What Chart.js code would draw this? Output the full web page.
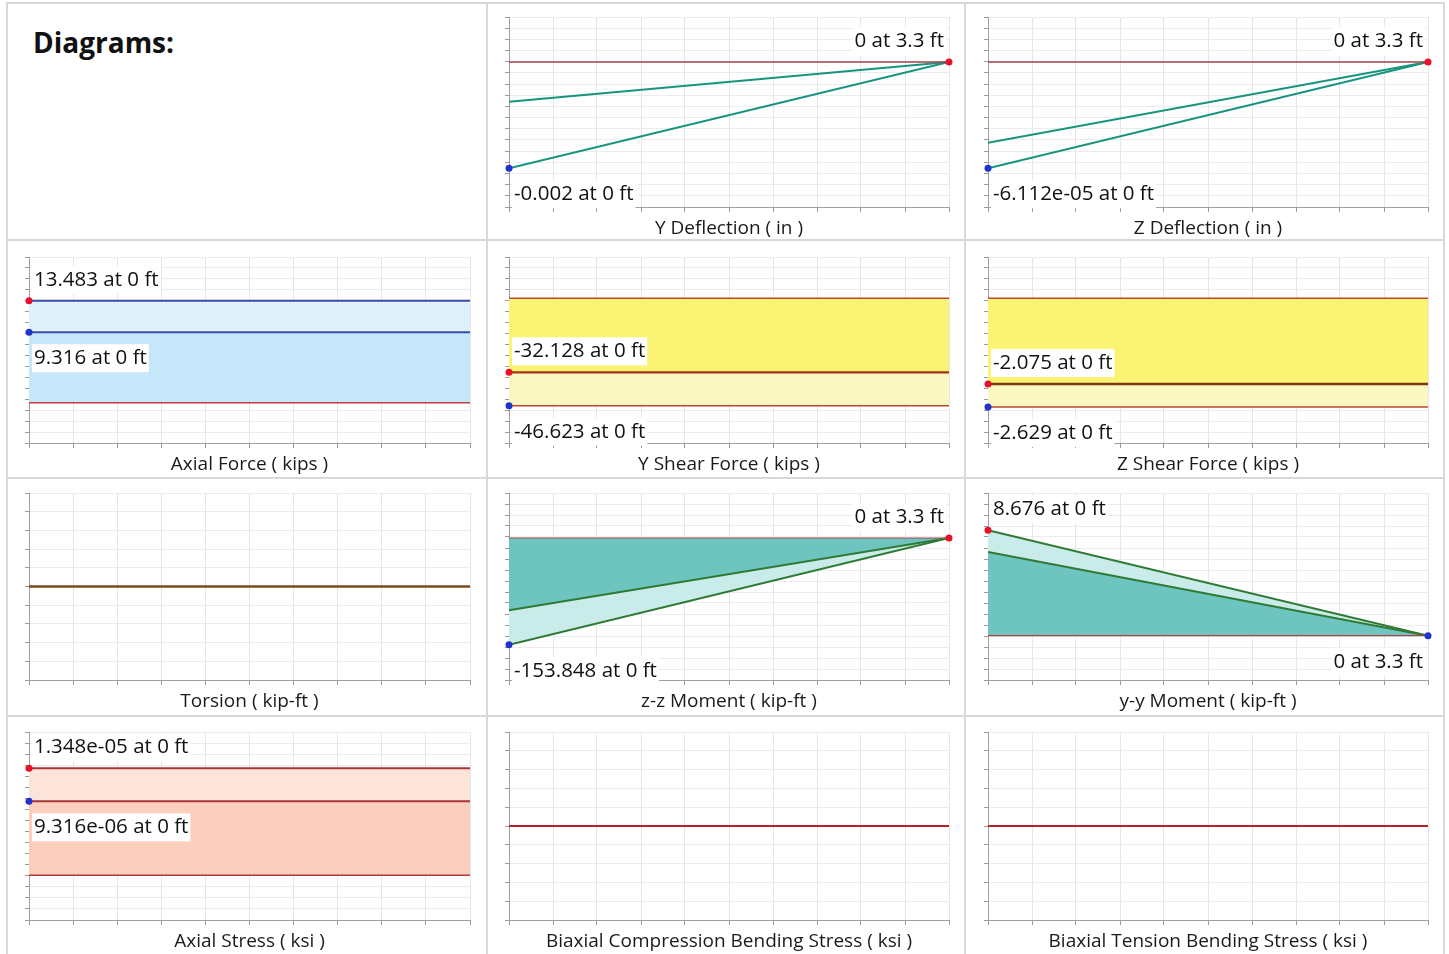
<!DOCTYPE html>
<html><head><meta charset="utf-8">
<script src="https://cdn.jsdelivr.net/npm/chart.js@4.4.1/dist/chart.umd.min.js"></script>
<style>
html,body{margin:0;padding:0;background:#fff;width:1449px;height:954px;overflow:hidden;}
#stage{position:relative;width:1449px;height:954px;}
.vl{position:absolute;background:#d8d8d8;width:2px;}
.hl{position:absolute;background:#d8d8d8;height:2px;}
canvas{position:absolute;}
#title{position:absolute;left:33px;top:22px;font:bold 28px 'Open Sans',sans-serif;color:#111;line-height:40px;}
</style></head><body><div id="stage">
<div class="vl" style="left:6px;top:2px;height:952px"></div>
<div class="vl" style="left:486px;top:2px;height:952px"></div>
<div class="vl" style="left:964px;top:2px;height:952px"></div>
<div class="vl" style="left:1443px;top:2px;height:952px"></div>
<div class="hl" style="left:6px;top:2px;width:1439px"></div>
<div class="hl" style="left:6px;top:239px;width:1439px"></div>
<div class="hl" style="left:6px;top:477px;width:1439px"></div>
<div class="hl" style="left:6px;top:715px;width:1439px"></div>
<div id="title">Diagrams:</div>
</div>
<script>
// ---- data (stations along member, ft) ----
const stations = [0, 3.3];
const zeroLine = [0, 0];
const yDeflMin = [-0.002, 0];
const yDeflEnv = [-0.00075, 0];
const zDeflMin = [-6.112e-5, 0];
const zDeflEnv = [-4.64e-5, 0];
const axialMax = [13.483, 13.483];
const axialMin = [9.316, 9.316];
const yShearMax = [-32.128, -32.128];
const yShearMin = [-46.623, -46.623];
const zShearMax = [-2.075, -2.075];
const zShearMin = [-2.629, -2.629];
const torsion = [0, 0];
const zzMomentEnv = [-104.25, 0];
const zzMomentMin = [-153.848, 0];
const yyMomentMax = [8.676, 0];
const yyMomentEnv = [6.89, 0];
const axialStressMax = [1.348e-5, 1.348e-5];
const axialStressMin = [9.316e-6, 9.316e-6];
const biaxCompStress = [0, 0];
const biaxTensStress = [0, 0];

const titles = ['Y Deflection ( in )','Z Deflection ( in )','Axial Force ( kips )','Y Shear Force ( kips )',
  'Z Shear Force ( kips )','Torsion ( kip-ft )','z-z Moment ( kip-ft )','y-y Moment ( kip-ft )',
  'Axial Stress ( ksi )','Biaxial Compression Bending Stress ( ksi )','Biaxial Tension Bending Stress ( ksi )'];
const yDeflLabels = ['0 at 3.3 ft', '-0.002 at 0 ft'];
const zDeflLabels = ['0 at 3.3 ft', '-6.112e-05 at 0 ft'];
const axialLabels = ['13.483 at 0 ft', '9.316 at 0 ft'];
const yShearLabels = ['-32.128 at 0 ft', '-46.623 at 0 ft'];
const zShearLabels = ['-2.075 at 0 ft', '-2.629 at 0 ft'];
const zzLabels = ['0 at 3.3 ft', '-153.848 at 0 ft'];
const yyLabels = ['8.676 at 0 ft', '0 at 3.3 ft'];
const axialStressLabels = ['1.348e-05 at 0 ft', '9.316e-06 at 0 ft'];

// ---- styles ----
const RED = '#e8102a', BLUE = '#2233cc';
const TEAL = '#17937f', GREEN = '#2e7a33', ZERO = '#a8404a';
const FONT = "'Open Sans', sans-serif";
Chart.defaults.font.family = FONT;

const cols = [{l:29, r:470}, {l:509, r:949}, {l:988, r:1428}];
const rows = [{t:17, b:207}, {t:257, b:443}, {t:493, b:680}, {t:732, b:920}];

function lineDS(vals, color, width, fill, bg) {
  return {data: stations.map((x, i) => ({x, y: vals[i]})), borderColor: color, borderWidth: width,
    pointRadius: 0, fill: fill || false, backgroundColor: bg || 'transparent', tension: 0};
}
function pointsDS(pts) {
  return {data: pts.map(p => ({x: p.x, y: p.y})), showLine: false, pointRadius: 3.5, pointHoverRadius: 3.5,
    pointBackgroundColor: pts.map(p => p.c), pointBorderWidth: 0, borderColor: 'transparent', order: -1, clip: false};
}
function lab(x, y, text, side, align) { return {x, y, text, side, align}; }

const panels = [
  {col:1, row:0, title:titles[0], yMin:-0.002728, yMax:0.000847, yDiv:17,
   ds:[lineDS(zeroLine, ZERO, 1.3), lineDS(yDeflEnv, TEAL, 2), lineDS(yDeflMin, TEAL, 2),
       pointsDS([{x:stations[1], y:yDeflMin[1], c:RED}, {x:stations[0], y:yDeflMin[0], c:BLUE}])],
   labels:[lab(stations[1], yDeflMin[1], yDeflLabels[0], 'above', 'right'), lab(stations[0], yDeflMin[0], yDeflLabels[1], 'below', 'left')]},
  {col:2, row:0, title:titles[1], yMin:-8.337e-5, yMax:2.587e-5, yDiv:17,
   ds:[lineDS(zeroLine, ZERO, 1.3), lineDS(zDeflEnv, TEAL, 2), lineDS(zDeflMin, TEAL, 2),
       pointsDS([{x:stations[1], y:zDeflMin[1], c:RED}, {x:stations[0], y:zDeflMin[0], c:BLUE}])],
   labels:[lab(stations[1], zDeflMin[1], zDeflLabels[0], 'above', 'right'), lab(stations[0], zDeflMin[0], zDeflLabels[1], 'below', 'left')]},
  {col:0, row:1, title:titles[2], yMin:-5.33, yMax:19.26, yDiv:17,
   ds:[lineDS(zeroLine, '#c0413a', 1.5), lineDS(axialMin, '#3a4ca6', 2, 'origin', '#c6e6fa'), lineDS(axialMax, '#3a4ca6', 2, '-1', '#e0f0fb'),
       pointsDS([{x:stations[0], y:axialMax[0], c:RED}, {x:stations[0], y:axialMin[0], c:BLUE}])],
   labels:[lab(stations[0], axialMax[0], axialLabels[0], 'above', 'left'), lab(stations[0], axialMin[0], axialLabels[1], 'below', 'left')]},
  {col:1, row:1, title:titles[3], yMin:-62.82, yMax:17.93, yDiv:17,
   ds:[lineDS(zeroLine, '#c0472b', 1.5), lineDS(yShearMax, '#a3341c', 2.2, 'origin', '#fbf373'), lineDS(yShearMin, '#c0472b', 1.5, '-1', '#fbf7c2'),
       pointsDS([{x:stations[0], y:yShearMax[0], c:RED}, {x:stations[0], y:yShearMin[0], c:BLUE}])],
   labels:[lab(stations[0], yShearMax[0], yShearLabels[0], 'above', 'left'), lab(stations[0], yShearMin[0], yShearLabels[1], 'below', 'left')]},
  {col:2, row:1, title:titles[4], yMin:-3.503, yMax:1.0, yDiv:17,
   ds:[lineDS(zeroLine, '#c0472b', 1.5), lineDS(zShearMax, '#7a3a10', 2.5, 'origin', '#fbf373'), lineDS(zShearMin, '#c0472b', 1.5, '-1', '#fbf7c2'),
       pointsDS([{x:stations[0], y:zShearMax[0], c:RED}, {x:stations[0], y:zShearMin[0], c:BLUE}])],
   labels:[lab(stations[0], zShearMax[0], zShearLabels[0], 'above', 'left'), lab(stations[0], zShearMin[0], zShearLabels[1], 'below', 'left')]},
  {col:0, row:2, title:titles[5], yMin:-1, yMax:1, yDiv:10,
   ds:[lineDS(torsion, '#7b4a1e', 2.4)], labels:[]},
  {col:1, row:2, title:titles[6], yMin:-204.7, yMax:64.9, yDiv:17,
   ds:[lineDS(zeroLine, ZERO, 1.2), lineDS(zzMomentEnv, GREEN, 2, 'origin', '#6ec5c0'), lineDS(zzMomentMin, GREEN, 2, '-1', '#c9ebe9'),
       pointsDS([{x:stations[1], y:zzMomentMin[1], c:RED}, {x:stations[0], y:zzMomentMin[0], c:BLUE}])],
   labels:[lab(stations[1], zzMomentMin[1], zzLabels[0], 'above', 'right'), lab(stations[0], zzMomentMin[0], zzLabels[1], 'below', 'left')]},
  {col:2, row:2, title:titles[7], yMin:-3.65, yMax:11.75, yDiv:17,
   ds:[lineDS(zeroLine, ZERO, 1.2), lineDS(yyMomentEnv, GREEN, 2, 'origin', '#6ec5c0'), lineDS(yyMomentMax, GREEN, 2, '-1', '#c9ebe9'),
       pointsDS([{x:stations[0], y:yyMomentMax[0], c:RED}, {x:stations[1], y:yyMomentMax[1], c:BLUE}])],
   labels:[lab(stations[0], yyMomentMax[0], yyLabels[0], 'above', 'left'), lab(stations[1], yyMomentMax[1], yyLabels[1], 'below', 'right')]},
  {col:0, row:3, title:titles[8], yMin:-5.63e-6, yMax:1.805e-5, yDiv:17,
   ds:[lineDS(zeroLine, '#b03a3a', 1.5), lineDS(axialStressMin, '#a83535', 2, 'origin', '#fbcfbd'), lineDS(axialStressMax, '#a83535', 2, '-1', '#fce4da'),
       pointsDS([{x:stations[0], y:axialStressMax[0], c:RED}, {x:stations[0], y:axialStressMin[0], c:BLUE}])],
   labels:[lab(stations[0], axialStressMax[0], axialStressLabels[0], 'above', 'left'), lab(stations[0], axialStressMin[0], axialStressLabels[1], 'below', 'left')]},
  {col:1, row:3, title:titles[9], yMin:-1, yMax:1, yDiv:10,
   ds:[lineDS(biaxCompStress, '#b0232a', 2)], labels:[]},
  {col:2, row:3, title:titles[10], yMin:-1, yMax:1, yDiv:10,
   ds:[lineDS(biaxTensStress, '#b0232a', 2)], labels:[]},
];

const valueLabels = {
  id: 'valueLabels',
  afterDatasetsDraw(chart, args, opts) {
    const {ctx} = chart; const x = chart.scales.x, y = chart.scales.y;
    ctx.save();
    ctx.font = "20.5px " + FONT;
    ctx.textBaseline = 'middle';
    (opts.items || []).forEach(it => {
      const right = it.align === 'right';
      const px = x.getPixelForValue(it.x) + (right ? -5 : 5);
      const py = y.getPixelForValue(it.y) + (it.side === 'above' ? -21 : 26);
      const w = ctx.measureText(it.text).width;
      const bx = right ? px - w - 2 : px - 2;
      ctx.fillStyle = '#fff'; ctx.fillRect(bx, py - 14, w + 4, 28);
      ctx.fillStyle = '#111'; ctx.textAlign = right ? 'right' : 'left';
      ctx.fillText(it.text, px, py);
    });
    ctx.restore();
  }
};

const PADL = 24, PADT = 12, PADR = 22, XH = 40;
const stage = document.getElementById('stage');
panels.forEach(p => {
  const c = cols[p.col], r = rows[p.row];
  const cv = document.createElement('canvas');
  const W = (c.r - c.l) + PADL + PADR, H = (r.b - r.t) + PADT + XH;
  cv.width = W; cv.height = H;
  cv.style.left = (c.l - PADL) + 'px'; cv.style.top = (r.t - PADT) + 'px';
  cv.style.width = W + 'px'; cv.style.height = H + 'px';
  stage.appendChild(cv);
  new Chart(cv, {
    type: 'line',
    data: {datasets: p.ds},
    plugins: [valueLabels],
    options: {
      responsive: false, animation: false, events: [],
      layout: {padding: {left: 0, top: PADT, right: PADR, bottom: 0}},
      plugins: {legend: {display: false}, tooltip: {enabled: false}, filler: {drawTime: 'beforeDatasetsDraw'},
        valueLabels: {items: p.labels}},
      scales: {
        x: {type: 'linear', min: stations[0], max: stations[1],
          afterBuildTicks: s => { s.ticks = Array.from({length: 11}, (_, i) => ({value: stations[0] + i * (stations[1] - stations[0]) / 10})); },
          afterFit: s => { s.height = XH; },
          ticks: {display: false},
          grid: {color: '#e6e6e6', tickColor: '#9a9a9a', tickLength: 5, lineWidth: 1},
          border: {color: '#a0a0a0', width: 1},
          title: {display: true, text: p.title, color: '#1a1a1a', font: {size: 19, family: FONT}, padding: {top: 0, bottom: 7}}},
        y: {type: 'linear', min: p.yMin, max: p.yMax,
          afterBuildTicks: s => { s.ticks = Array.from({length: p.yDiv + 1}, (_, i) => ({value: p.yMin + i * (p.yMax - p.yMin) / p.yDiv})); },
          afterFit: s => { s.width = PADL; },
          ticks: {display: false},
          grid: {color: '#ececec', tickColor: '#9a9a9a', tickLength: 4, lineWidth: 1},
          border: {color: '#a0a0a0', width: 1}}
      }
    }
  });
});
</script></body></html>
